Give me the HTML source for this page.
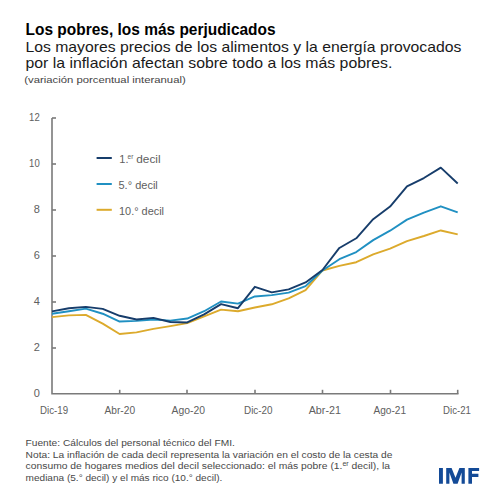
<!DOCTYPE html>
<html><head><meta charset="utf-8"><style>
html,body{margin:0;padding:0;background:#fff;width:503px;height:503px;overflow:hidden}
svg{display:block;font-family:"Liberation Sans",sans-serif}
</style></head><body>
<svg width="503" height="503" viewBox="0 0 503 503">
<rect width="503" height="503" fill="#fff"/>
<text x="25.6" y="35" font-size="16" font-weight="bold" fill="#000" textLength="250" lengthAdjust="spacingAndGlyphs">Los pobres, los más perjudicados</text>
<text x="25.4" y="51.9" font-size="15" fill="#1a1a1a" textLength="436" lengthAdjust="spacingAndGlyphs">Los mayores precios de los alimentos y la energía provocados</text>
<text x="25.4" y="67.5" font-size="15" fill="#1a1a1a" textLength="367" lengthAdjust="spacingAndGlyphs">por la inflación afectan sobre todo a los más pobres.</text>
<text x="24.3" y="83.4" font-size="9.8" fill="#444" textLength="161.4" lengthAdjust="spacingAndGlyphs">(variación porcentual interanual)</text>
<g stroke="#7a7a7a" stroke-width="1.6" fill="none">
<polyline points="52,118 52,393.75 458.5,393.75"/>
<line x1="52" y1="348.00" x2="56" y2="348.00"/><line x1="52" y1="302.00" x2="56" y2="302.00"/><line x1="52" y1="256.00" x2="56" y2="256.00"/><line x1="52" y1="210.00" x2="56" y2="210.00"/><line x1="52" y1="164.00" x2="56" y2="164.00"/><line x1="52" y1="118.00" x2="56" y2="118.00"/>
<line x1="119.7" y1="393.75" x2="119.7" y2="389.8"/><line x1="187" y1="393.75" x2="187" y2="389.8"/><line x1="255" y1="393.75" x2="255" y2="389.8"/><line x1="322.5" y1="393.75" x2="322.5" y2="389.8"/><line x1="390.5" y1="393.75" x2="390.5" y2="389.8"/><line x1="457.7" y1="393.75" x2="457.7" y2="389.8"/>
</g>
<g font-size="11" fill="#606060"><text x="39.8" y="397.00" text-anchor="end">0</text><text x="39.8" y="351.00" text-anchor="end">2</text><text x="39.8" y="305.00" text-anchor="end">4</text><text x="39.8" y="259.00" text-anchor="end">6</text><text x="39.8" y="213.00" text-anchor="end">8</text><text x="29.1" y="167.00" textLength="10.6" lengthAdjust="spacingAndGlyphs">10</text><text x="29.1" y="121.00" textLength="10.6" lengthAdjust="spacingAndGlyphs">12</text></g>
<g font-size="10.5" fill="#606060"><text x="40.10" y="414" textLength="28" lengthAdjust="spacingAndGlyphs">Dic-19</text><text x="104.55" y="414" textLength="30.5" lengthAdjust="spacingAndGlyphs">Abr-20</text><text x="171.50" y="414" textLength="33.4" lengthAdjust="spacingAndGlyphs">Ago-20</text><text x="244.00" y="414" textLength="28.6" lengthAdjust="spacingAndGlyphs">Dic-20</text><text x="308.70" y="414" textLength="32.2" lengthAdjust="spacingAndGlyphs">Abr-21</text><text x="373.50" y="414" textLength="32.6" lengthAdjust="spacingAndGlyphs">Ago-21</text><text x="443.10" y="414" textLength="27.8" lengthAdjust="spacingAndGlyphs">Dic-21</text></g>
<g fill="none" stroke-width="1.9" stroke-linejoin="round">
<polyline stroke="#dcaa2c" points="52.00,317.18 68.90,315.34 85.81,314.88 102.71,323.62 119.62,333.97 136.52,332.36 153.42,328.91 170.33,326.15 187.23,323.16 204.14,316.49 221.04,309.59 237.95,311.20 254.85,307.52 271.75,304.30 288.66,298.32 305.56,290.04 322.47,270.49 339.37,265.89 356.27,262.21 373.18,254.39 390.08,248.64 406.99,241.05 423.89,235.99 440.80,230.47 457.70,234.38"/>
<polyline stroke="#2090c2" points="52.00,313.73 68.90,311.20 85.81,308.67 102.71,313.73 119.62,321.55 136.52,320.86 153.42,319.48 170.33,320.63 187.23,318.56 204.14,311.20 221.04,301.54 237.95,303.61 254.85,296.48 271.75,295.10 288.66,292.57 305.56,286.13 322.47,270.49 339.37,259.22 356.27,252.09 373.18,240.13 390.08,230.70 406.99,219.66 423.89,212.53 440.80,206.32 457.70,212.30"/>
<polyline stroke="#173d6b" points="52.00,311.43 68.90,308.21 85.81,306.83 102.71,308.90 119.62,315.80 136.52,319.48 153.42,317.87 170.33,322.01 187.23,322.47 204.14,314.42 221.04,304.07 237.95,308.21 254.85,286.82 271.75,292.34 288.66,289.35 305.56,282.45 322.47,270.03 339.37,247.95 356.27,238.29 373.18,219.20 390.08,206.55 406.99,186.31 423.89,178.03 440.80,167.68 457.70,183.55"/>
</g>
<g stroke-width="2">
<line x1="96.6" y1="158" x2="111.8" y2="158" stroke="#173d6b"/>
<line x1="96.6" y1="184" x2="111.8" y2="184" stroke="#2090c2"/>
<line x1="96.6" y1="209.8" x2="111.8" y2="209.8" stroke="#dcaa2c"/>
</g>
<g font-size="11" fill="#5e5e5e">
<text x="119.3" y="162.9">1.</text><text x="127.6" y="158.6" font-size="6.5">er</text><text x="136.3" y="162.9" textLength="24.3" lengthAdjust="spacingAndGlyphs">decil</text>
<text x="118.5" y="188.8" textLength="39.3" lengthAdjust="spacingAndGlyphs">5.° decil</text>
<text x="119" y="214.7" textLength="45" lengthAdjust="spacingAndGlyphs">10.° decil</text>
</g>
<g font-size="9.6" fill="#484848">
<text x="25.6" y="446.3" textLength="209.2" lengthAdjust="spacingAndGlyphs">Fuente: Cálculos del personal técnico del FMI.</text>
<text x="25.6" y="457.8" textLength="366.8" lengthAdjust="spacingAndGlyphs">Nota: La inflación de cada decil representa la variación en el costo de la cesta de</text>
<text x="25.6" y="469.4" textLength="364.4" lengthAdjust="spacingAndGlyphs">consumo de hogares medios del decil seleccionado: el más pobre (1.<tspan font-size="6.5" dy="-3.5">er</tspan><tspan dy="3.5"> decil), la</tspan></text>
<text x="25.6" y="480.7" textLength="196.7" lengthAdjust="spacingAndGlyphs">mediana (5.° decil) y el más rico (10.° decil).</text>
</g>
<path fill="#134a97" d="M439,468.1H442.9V483.8H439Z M446.2,483.8V468.1H451.6L455.5,477.8L459.4,468.1H464.8V483.8H461.6V472.4L457.6,483.8H453.4L449.4,472.4V483.8Z M468.4,483.8V468.1H479.1V471.1H472V473.8H478.4V476.9H472V483.8Z"/>
</svg>
</body></html>
